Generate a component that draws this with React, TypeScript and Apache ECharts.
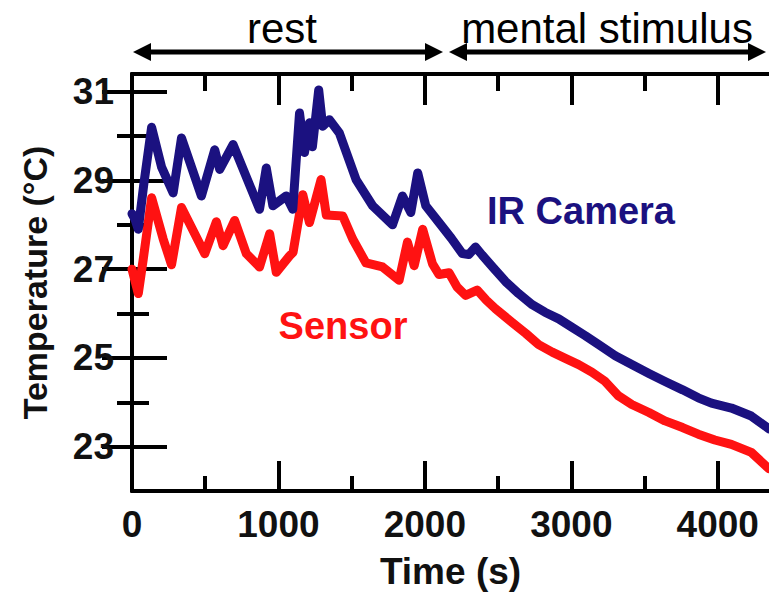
import React, { useEffect, useRef } from "react";
import * as echarts from "echarts";

// ---- data ----
const irTime = [0, 20, 43, 80, 134, 202, 281, 338, 474, 565, 599, 690, 871, 917, 962, 1053, 1098, 1144, 1178, 1212, 1232, 1275, 1302, 1348, 1416, 1530, 1643, 1779, 1847, 1904, 1951, 2006, 2097, 2180, 2256, 2300, 2346, 2391, 2470, 2551, 2640, 2733, 2820, 2914, 3000, 3096, 3186, 3300, 3413, 3530, 3640, 3760, 3867, 3957, 4093, 4229, 4350];
const irTemp = [28.25, 28.13, 27.9, 28.9, 30.2, 29.3, 28.72, 29.96, 28.65, 29.69, 29.25, 29.81, 28.35, 29.28, 28.43, 28.65, 28.35, 30.52, 29.63, 30.3, 29.76, 31.04, 30.22, 30.37, 30.07, 29.02, 28.43, 28.0, 28.65, 28.28, 29.17, 28.43, 28.05, 27.7, 27.35, 27.33, 27.5, 27.32, 27.02, 26.72, 26.45, 26.2, 26.03, 25.88, 25.7, 25.5, 25.3, 25.05, 24.85, 24.65, 24.47, 24.28, 24.1, 23.98, 23.87, 23.69, 23.4];

const sensorTime = [0, 43, 77, 134, 213, 270, 338, 497, 576, 622, 701, 781, 871, 940, 985, 1076, 1100, 1166, 1212, 1291, 1327, 1439, 1507, 1598, 1711, 1824, 1881, 1927, 1985, 2052, 2097, 2165, 2220, 2278, 2357, 2420, 2482, 2596, 2690, 2777, 2870, 2959, 3050, 3140, 3231, 3320, 3413, 3530, 3640, 3760, 3867, 3980, 4093, 4229, 4350];
const sensorTemp = [27.0, 26.45, 27.23, 28.61, 27.68, 27.1, 28.39, 27.35, 28.07, 27.53, 28.1, 27.35, 27.05, 27.8, 26.93, 27.3, 27.38, 28.68, 28.05, 29.02, 28.22, 28.2, 27.68, 27.14, 27.05, 26.75, 27.61, 27.08, 27.9, 27.12, 26.88, 26.92, 26.6, 26.41, 26.53, 26.3, 26.11, 25.8, 25.55, 25.3, 25.13, 24.99, 24.85, 24.68, 24.47, 24.15, 23.95, 23.77, 23.58, 23.43, 23.28, 23.15, 23.05, 22.87, 22.5];

const xMajor = [0, 1000, 2000, 3000, 4000];
const xMinor = [500, 1500, 2500, 3500];
const yMajor = [23, 25, 27, 29, 31];
const yMinor = [24, 26, 28, 30];

const X_MIN = 0;
const X_MAX = 4350;
const Y_MIN = 22;
const Y_MAX = 31.4;

const FONT = '"Liberation Sans", Arial, sans-serif';
const BLUE = "#1b1180";
const RED = "#ff1212";

function zip(a: number[], b: number[]) {
  return a.map((v, i) => [v, b[i]]);
}

const plain = (v: number) => String(v);

function xAx(position: string, ticks: number[], len: number, main: boolean) {
  return {
    type: "value",
    position,
    min: X_MIN,
    max: X_MAX,
    axisLine: { show: main, lineStyle: { color: "#000", width: 4 } },
    axisTick: { show: true, inside: true, length: len, customValues: ticks, lineStyle: { color: "#000", width: 4 } },
    axisLabel: position === "bottom" && main
      ? { show: true, customValues: ticks, formatter: plain, margin: 15, fontSize: 37, fontWeight: "bold", color: "#111", fontFamily: FONT }
      : { show: false },
    splitLine: { show: false },
    ...(position === "bottom" && main
      ? { name: "Time (s)", nameLocation: "middle", nameGap: 62, nameTextStyle: { fontSize: 37, fontWeight: "bold", color: "#111", fontFamily: FONT } }
      : {}),
  };
}

function yAx(position: string, ticks: number[], len: number, main: boolean) {
  return {
    type: "value",
    position,
    min: Y_MIN,
    max: Y_MAX,
    axisLine: { show: main, lineStyle: { color: "#000", width: 4 } },
    axisTick: { show: true, inside: true, length: len, customValues: ticks, lineStyle: { color: "#000", width: 4 } },
    axisLabel: position === "left" && main
      ? { show: true, customValues: ticks, formatter: plain, margin: 18, fontSize: 37, fontWeight: "bold", color: "#111", fontFamily: FONT }
      : { show: false },
    splitLine: { show: false },
    ...(position === "left" && main
      ? { name: "Temperature (°C)", nameLocation: "middle", nameGap: 80, nameRotate: 90, nameTextStyle: { fontSize: 34, fontWeight: "bold", color: "#111", fontFamily: FONT } }
      : {}),
  };
}

function arrow(x1: number, x2: number, y: number) {
  const h = 18;
  const w = 9;
  return [
    { type: "line", shape: { x1: x1 + h - 2, y1: y, x2: x2 - h + 2, y2: y }, style: { stroke: "#000", lineWidth: 5 } },
    { type: "polygon", shape: { points: [[x1, y], [x1 + h, y - w], [x1 + h, y + w]] }, style: { fill: "#000" } },
    { type: "polygon", shape: { points: [[x2, y], [x2 - h, y - w], [x2 - h, y + w]] }, style: { fill: "#000" } },
  ];
}

export default function App() {
  const ref = useRef<HTMLDivElement>(null);
  useEffect(() => {
    if (!ref.current) return;
    const chart = echarts.init(ref.current, null, { renderer: "svg" });
    chart.setOption({
      animation: false,
      backgroundColor: "#fff",
      grid: { left: 132, right: -2, top: 74, bottom: 102 },
      xAxis: [
        xAx("bottom", xMajor, 30, true),
        xAx("bottom", xMinor, 15, false),
        xAx("top", xMajor, 31, true),
        xAx("top", xMinor, 17, false),
      ],
      yAxis: [
        yAx("left", yMajor, 35, true),
        yAx("left", yMinor, 17, false),
        yAx("right", yMajor, 30, true),
        yAx("right", yMinor, 15, false),
      ],
      series: [
        {
          name: "Sensor",
          type: "line",
          xAxisIndex: 0,
          yAxisIndex: 0,
          data: zip(sensorTime, sensorTemp),
          showSymbol: false,
          lineStyle: { color: RED, width: 9, join: "round", cap: "round" },
          itemStyle: { color: RED },
        },
        {
          name: "IR Camera",
          type: "line",
          xAxisIndex: 0,
          yAxisIndex: 0,
          data: zip(irTime, irTemp),
          showSymbol: false,
          lineStyle: { color: BLUE, width: 9, join: "round", cap: "round" },
          itemStyle: { color: BLUE },
        },
      ],
      graphic: [
        ...arrow(133, 443, 52),
        ...arrow(449, 766, 52),
        { type: "text", x: 282, y: 28, style: { text: "rest", fontSize: 42, fontFamily: FONT, fill: "#000", align: "center", verticalAlign: "middle" } },
        { type: "text", x: 607, y: 28, style: { text: "mental stimulus", fontSize: 42, fontFamily: FONT, fill: "#000", align: "center", verticalAlign: "middle" } },
        { type: "text", x: 581, y: 211, style: { text: "IR Camera", fontSize: 38, fontWeight: "bold", fontFamily: FONT, fill: BLUE, align: "center", verticalAlign: "middle" } },
        { type: "text", x: 343, y: 326, style: { text: "Sensor", fontSize: 38, fontWeight: "bold", fontFamily: FONT, fill: RED, align: "center", verticalAlign: "middle" } },
      ],
    });
    return () => chart.dispose();
  }, []);
  return <div ref={ref} style={{ position: "fixed", left: 0, top: 0, width: 769, height: 595 }} />;
}
